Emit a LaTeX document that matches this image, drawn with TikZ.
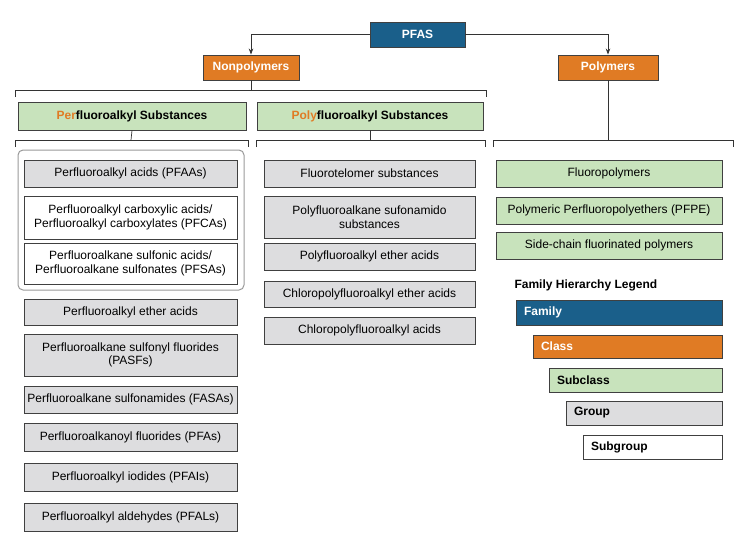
\documentclass[tikz,border=0pt]{standalone}
\usepackage{fontspec}
\setmainfont{Liberation Sans}
\usetikzlibrary{arrows.meta}
\definecolor{fblue}{HTML}{1A5F8A}
\definecolor{forange}{HTML}{E07B24}
\definecolor{fgreen}{HTML}{C8E3BC}
\definecolor{fgrey}{HTML}{DDDDDF}
\newcommand{\bx}[6]{\node[#1,minimum width=#4-#3 pt,minimum height=#6-#5 pt] (#2) at ({(#3+#4)/2},{-(#5+#6)/2})}
\newcommand{\fs}{\fontsize{12}{13.5}\selectfont}
\tikzset{x=1pt,y=1pt,
 base/.style={draw=black!75,line width=0.9pt,inner sep=1pt,align=center,font=\fs},
 fam/.style={base,fill=fblue,text=white,font=\fs\bfseries},
 cls/.style={base,fill=forange,text=white,font=\fs\bfseries},
 sub/.style={base,fill=fgreen,font=\fs\bfseries},
 grp/.style={base,fill=fgrey},
 sgp/.style={base,fill=white},
 sgrp/.style={base,fill=fgreen},
 ln/.style={draw=black!80,line width=0.7pt},
 lg/.style={text width=#1,align=left}}
\begin{document}
\begin{tikzpicture}
\useasboundingbox (0,0) rectangle (740,-555);
\bx{fam}{pfas}{370}{465}{22}{47}{PFAS};
\bx{cls}{np}{203}{299}{55}{80}{Nonpolymers};
\bx{cls}{po}{558}{658}{55}{80}{Polymers};
\draw[ln,-{Stealth[length=6pt]}] (pfas.west) -| (np.north);
\draw[ln,-{Stealth[length=6pt]}] (pfas.east) -| (po.north);
\bx{sub}{per}{18}{246}{102}{130}{\textcolor{forange}{Per}fluoroalkyl Substances};
\bx{sub}{poly}{257}{483}{102}{130}{\textcolor{forange}{Poly}fluoroalkyl Substances};
\draw[ln] (np.south) -- (251,-90);
\draw[ln] (15,-97) -- (15,-90) -- (486,-90) -- (486,-97);
\draw[ln] (per.south) -- (131,-140);
\draw[ln] (15,-147) -- (15,-140) -- (248,-140) -- (248,-147);
\draw[ln] (poly.south) -- (370,-140);
\draw[ln] (256,-147) -- (256,-140) -- (485,-140) -- (485,-147);
\draw[ln] (po.south) -- (608,-140);
\draw[ln] (493,-147) -- (493,-140) -- (733,-140) -- (733,-147);
\draw[draw=black!40,line width=1pt,rounded corners=5pt] (18,-150) rectangle (244,-290);
\bx{grp}{a1}{24}{237}{160}{187}{Perfluoroalkyl acids (PFAAs)};
\bx{sgp}{a2}{24}{237}{196}{239}{Perfluoroalkyl carboxylic acids/\\Perfluoroalkyl carboxylates (PFCAs)};
\bx{sgp}{a3}{24}{237}{243}{284}{Perfluoroalkane sulfonic acids/\\Perfluoroalkane sulfonates (PFSAs)};
\bx{grp}{a4}{24}{237}{299}{325}{Perfluoroalkyl ether acids};
\bx{grp}{a5}{24}{237}{334}{376}{Perfluoroalkane sulfonyl fluorides\\(PASFs)};
\bx{grp}{a6}{24}{237}{386}{413}{Perfluoroalkane sulfonamides (FASAs)};
\bx{grp}{a7}{24}{237}{423}{451}{Perfluoroalkanoyl fluorides (PFAs)};
\bx{grp}{a8}{24}{237}{463}{491}{Perfluoroalkyl iodides (PFAIs)};
\bx{grp}{a9}{24}{237}{503}{531}{Perfluoroalkyl aldehydes (PFALs)};
\bx{grp}{b1}{264}{475}{160}{187}{Fluorotelomer substances};
\bx{grp}{b2}{264}{475}{196}{238}{Polyfluoroalkane sufonamido\\substances};
\bx{grp}{b3}{264}{475}{243}{270}{Polyfluoroalkyl ether acids};
\bx{grp}{b4}{264}{475}{281}{307}{Chloropolyfluoroalkyl ether acids};
\bx{grp}{b5}{264}{475}{317}{344}{Chloropolyfluoroalkyl acids};
\bx{sgrp}{c1}{496}{722}{160}{187}{Fluoropolymers};
\bx{sgrp}{c2}{496}{722}{197}{224}{Polymeric Perfluoropolyethers (PFPE)};
\bx{sgrp}{c3}{496}{722}{232}{259}{Side-chain fluorinated polymers};
\node[anchor=west,font=\fs\bfseries] (lt) at (511,-285) {Family Hierarchy Legend};
\bx{fam,lg=190pt}{l1}{516}{722}{300}{325}{Family};
\bx{cls,lg=173pt}{l2}{533}{722}{335}{358}{Class};
\bx{sub,lg=157pt}{l3}{549}{722}{368}{392}{Subclass};
\bx{grp,lg=140pt,font=\fs\bfseries}{l4}{566}{722}{401}{425}{Group};
\bx{sgp,lg=123pt,font=\fs\bfseries}{l5}{583}{722}{435}{459}{Subgroup};
\end{tikzpicture}
\end{document}
